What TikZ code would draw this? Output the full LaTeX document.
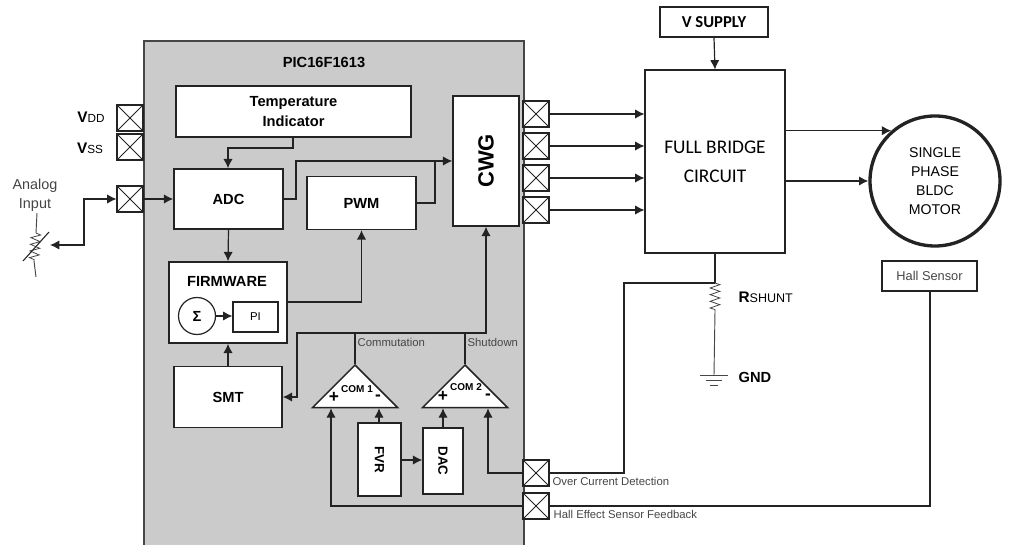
\documentclass[tikz,border=0pt]{standalone}
\usepackage{fontspec}
\setmainfont{Liberation Sans}
\newfontfamily\calibrilike{Carlito}
\usetikzlibrary{arrows.meta,shapes.geometric,decorations.pathmorphing}
\definecolor{panelgray}{RGB}{203,203,203}
\definecolor{wiredark}{RGB}{35,35,35}
\definecolor{thintext}{RGB}{70,70,70}
\tikzset{
  blocksize/.style 2 args={minimum width=#1*0.75pt, minimum height=#2*0.75pt},
  block/.style={draw=wiredark, rectangle, fill=white, line width=1.1pt, inner sep=0pt, font=\bfseries\fontsize{11}{14.5}\selectfont, align=center},
  plainbox/.style={draw=wiredark, rectangle, fill=white, line width=0.9pt, inner sep=0pt, align=center},
  pad/.style={draw=wiredark, rectangle, fill=white, line width=0.8pt, inner sep=0pt, minimum size=26*0.75pt,
    path picture={\draw[line width=0.7pt] (path picture bounding box.south west) -- (path picture bounding box.north east);
      \draw[line width=0.7pt] (path picture bounding box.north west) -- (path picture bounding box.south east);}},
  comparator/.style={draw=wiredark, isosceles triangle, isosceles triangle apex angle=90, shape border rotate=90, fill=white, line width=1.1pt, inner sep=0pt, minimum width=85*0.75pt, anchor=apex},
  thinlabel/.style={inner sep=0pt, text=thintext, anchor=west, font=\fontsize{8.5}{10}\selectfont},
  boldlabel/.style={inner sep=0pt, font=\bfseries\fontsize{11}{13}\selectfont},
  smallsign/.style={inner sep=0pt, font=\bfseries\fontsize{13}{13}\selectfont},
  zigline/.style={line width=0.6pt, draw=thintext, decorate, decoration={zigzag, segment length=5pt, amplitude=3.6pt}}
}
\begin{document}
\begin{tikzpicture}[x=0.75pt, y=-0.75pt, >={Latex[length=7pt,width=7pt]}, line width=0.9pt, draw=wiredark]
\useasboundingbox (0,0) rectangle (1010,545);

% device outline
\fill[panelgray] (144,41) rectangle (524,545);
\draw[draw=thintext] (144,545) -- (144,41) -- (524,41) -- (524,545);
\node[boldlabel] (pictitle) at (324,62) {PIC16F1613};

% blocks
\node[block, blocksize={235}{51}] (tempind) at (293.5,111.5) {Temperature\\Indicator};
\node[block, blocksize={109}{60}] (adc) at (228.5,199) {ADC};
\node[block, blocksize={109}{53}] (pwm) at (361.5,203) {PWM};
\node[block, blocksize={66}{130}] (cwg) at (486,161) {\fontsize{16.5}{18}\selectfont\rotatebox{90}{CWG}};
\node[block, blocksize={118}{81}] (firmware) at (228,302.5) {};
\node[boldlabel] (fwtitle) at (227,281) {FIRMWARE};
\node[draw=wiredark, circle, fill=white, line width=0.9pt, inner sep=0pt, minimum size=37*0.75pt, font=\bfseries\fontsize{11}{11}\selectfont] (sigma) at (197,316) {Σ};
\node[plainbox, blocksize={45}{30}, font=\fontsize{8.5}{10}\selectfont] (pi) at (255.5,317) {PI};
\node[block, blocksize={108}{61}] (smt) at (228,397) {SMT};
\node[block, blocksize={43}{73}, font=\bfseries\fontsize{10}{12}\selectfont] (fvr) at (379.5,459.5) {\rotatebox{-90}{FVR}};
\node[block, blocksize={40}{66}, font=\bfseries\fontsize{10}{12}\selectfont] (dac) at (443,461) {\rotatebox{-90}{DAC}};

% comparators
\node[comparator] (comone) at (355,364) {};
\node[comparator] (comtwo) at (465,364) {};
\node[inner sep=0pt, font=\bfseries\fontsize{7.5}{9}\selectfont] (comonetext) at (357,389) {COM 1};
\node[inner sep=0pt, font=\bfseries\fontsize{7.5}{9}\selectfont] (comtwotext) at (466,387) {COM 2};
\node[smallsign] (comoneplus) at (334,397) {+};
\node[smallsign] (comoneminus) at (378,398) {-};
\node[smallsign] (comtwoplus) at (443,396) {+};
\node[smallsign] (comtwominus) at (488,397) {-};

% pads
\node[pad] (padvdd) at (130,118) {};
\node[pad] (padvss) at (130,147) {};
\node[pad] (padin) at (130,199) {};
\node[pad] (padone) at (536,114) {};
\node[pad] (padtwo) at (536,146) {};
\node[pad] (padthree) at (536,178) {};
\node[pad] (padfour) at (536,210) {};
\node[pad] (padocd) at (536,473) {};
\node[pad] (padhall) at (536,506) {};

% outside the device
\node[plainbox, blocksize={140}{183}, line width=0.8pt, font=\calibrilike\fontsize{14.5}{22}\selectfont] (bridge) at (715,161.5) {FULL BRIDGE\\CIRCUIT};
\node[plainbox, blocksize={108}{30}, line width=1.1pt, font=\calibrilike\bfseries\fontsize{12.5}{14}\selectfont] (vsupply) at (714,22) {V SUPPLY};
\node[draw=wiredark, circle, line width=2.5pt, inner sep=0pt, minimum size=130*0.75pt, align=center, font=\fontsize{10.6}{14.25}\selectfont] (motor) at (935,181) {SINGLE\\PHASE\\BLDC\\MOTOR};
\node[plainbox, blocksize={95}{30}, text=thintext, font=\fontsize{9.6}{11}\selectfont] (hallsensor) at (929.5,276) {Hall Sensor};

% pin and signal names
\node[inner sep=0pt] (vddname) at (91,117) {\bfseries\fontsize{11.5}{13}\selectfont V\fontsize{8.8}{13}\selectfont\mdseries DD};
\node[inner sep=0pt] (vssname) at (90,148) {\bfseries\fontsize{11.5}{13}\selectfont V\fontsize{8.8}{13}\selectfont\mdseries SS};
\node[inner sep=0pt, align=center, text=wiredark!85, font=\fontsize{10.8}{14.25}\selectfont] (analogname) at (35,195) {Analog\\Input};
\node[inner sep=0pt, anchor=west] (rshuntname) at (738,297) {\bfseries\fontsize{11.5}{13}\selectfont R\fontsize{9.4}{13}\selectfont\mdseries SHUNT};
\node[boldlabel, anchor=west] (gndname) at (738,377) {GND};
\node[thinlabel] (commname) at (357,342) {Commutation};
\node[thinlabel] (shutname) at (467,342) {Shutdown};
\node[thinlabel] (ocdname) at (552,481) {Over Current Detection};
\node[thinlabel] (hallname) at (553,514) {Hall Effect Sensor Feedback};

% connector corners
\coordinate (commbus) at (355,333);
\coordinate (shutbus) at (465,333);
\coordinate (shunttop) at (715,283);
\coordinate (shuntend) at (715,311);
\coordinate (gndtop) at (714,375);
\coordinate (wiper) at (50,245);
\coordinate (pottop) at (37,213);
\coordinate (potzigtop) at (36,233);
\coordinate (potzigend) at (34,261);
\coordinate (potend) at (36,277);
\coordinate (slashlow) at (23,261);
\coordinate (slashhigh) at (49,232);

% inside the device
\draw[->] (293,0 |- tempind.south) |- (228,148) -- (228,0 |- adc.north);
\draw[->] (padin.east) -- (adc.west);
\draw[->] (adc.east) -- (296,199) |- (cwg.west);
\draw (pwm.east) -- (435,203) -- (435,161);
\draw[->] (adc.south) -- (228,0 |- firmware.north);
\draw[->] (smt.north) -- (firmware.south);
\draw[->] (firmware.east |- 0,302) -| (pwm.south);
\draw[->] (sigma.east) -- (pi.west |- sigma.east);
\draw[->] (comone.apex) |- (297,333) |- (smt.east);
\draw[->] (comtwo.apex) |- (486,333) -- (cwg.south);
\draw (commbus) -- (shutbus);
\draw[->] (379,0 |- fvr.north) -- (379,0 |- comone.south);
\draw[->] (fvr.east |- 0,460) -- (dac.west |- 0,460);
\draw[->] (dac.north) -- (dac.north |- comtwo.south);
\draw[->] (padocd.west) -| (488,0 |- comtwo.south);
\draw[->] (padhall.west) -| (331,0 |- comone.south);

% outside the device
\draw[<->] (padin.west) -| (84,245) -- (wiper);
\draw[->] (padone.east) -- (bridge.west |- padone.east);
\draw[->] (padtwo.east) -- (bridge.west |- padtwo.east);
\draw[->] (padthree.east) -- (bridge.west |- padthree.east);
\draw[->] (padfour.east) -- (bridge.west |- padfour.east);
\draw[->] (vsupply.south) -- (bridge.north);
\draw[->] (bridge.east |- motor.131) -- (motor.131);
\draw[->] (bridge.east |- motor.west) -- (motor.west);
\draw (bridge.south) -- (shunttop);
\draw (padocd.east) -| (624,283) -- (shunttop);
\draw (930,0 |- hallsensor.south) |- (padhall.east);

% shunt and ground
\draw[zigline] (shunttop) -- (shuntend);
\draw[line width=0.7pt, draw=thintext] (shuntend) -- (gndtop);
\draw[line width=0.7pt, draw=thintext] (700,375) -- (728,375) (706,380) -- (722,380) (710,385) -- (718,385);

% potentiometer at the analog input
\draw[line width=0.7pt, draw=thintext] (pottop) -- (potzigtop) (potzigend) -- (potend);
\draw[zigline] (potzigtop) -- (potzigend);
\draw[line width=0.8pt] (slashlow) -- (slashhigh);
\end{tikzpicture}
\end{document}
